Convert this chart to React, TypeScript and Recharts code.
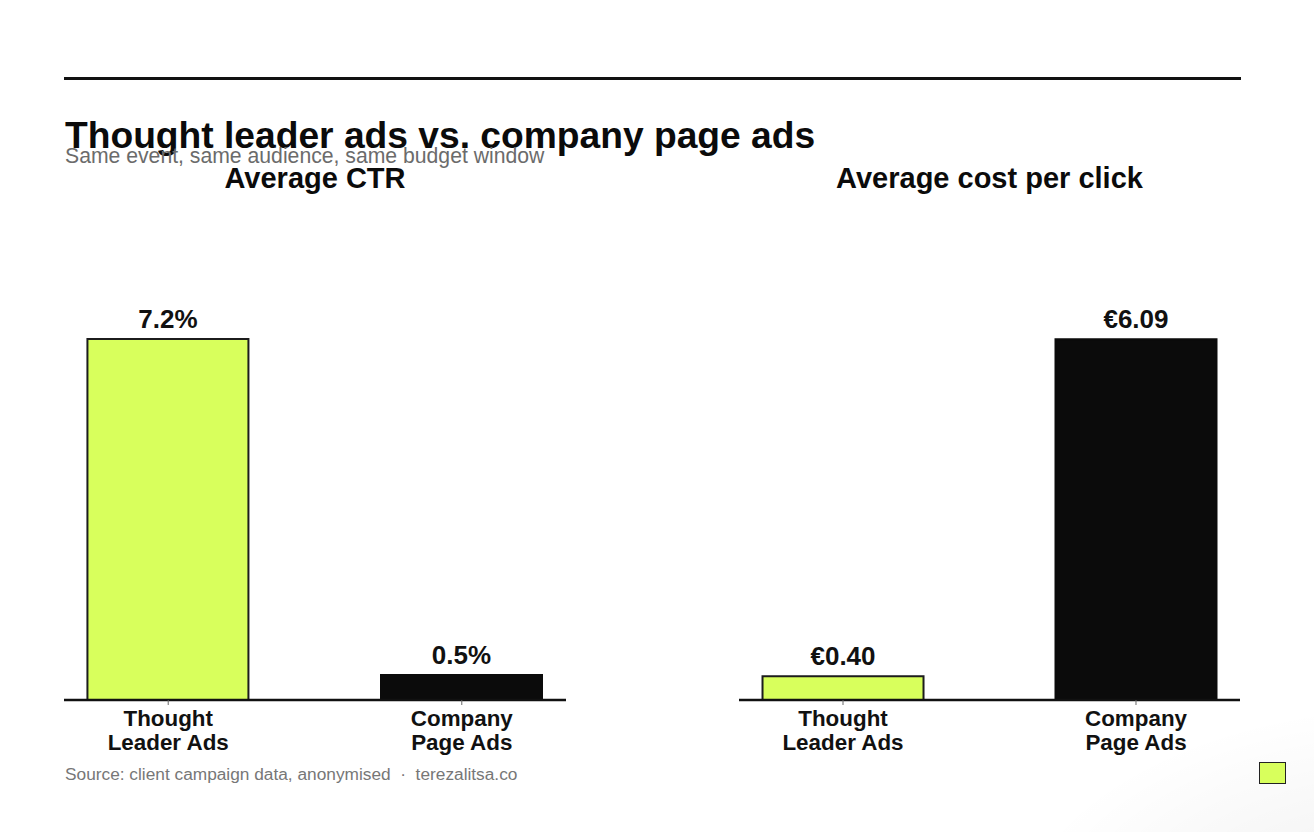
import React from "react";
import { BarChart, Bar, XAxis, YAxis, Cell, LabelList } from "recharts";

const categories = ["Thought Leader Ads", "Company Page Ads"];
const categoryLines = [
  ["Thought", "Leader Ads"],
  ["Company", "Page Ads"],
];
const ctrValues = [7.2, 0.5];
const cpcValues = [0.4, 6.09];

const LIME = "#D8FF5C";
const INK = "#0b0b0b";
const barColors = [LIME, INK];
const FONT = '"Liberation Sans", Arial, sans-serif';

const CHART_W = 657;
const CHART_H = 832;

function CategoryTick(props: any) {
  const { x, y, payload } = props;
  const lines = categoryLines[payload.value] ?? [];
  return (
    <g transform={`translate(${x},${y})`}>
      <text textAnchor="middle" fill="#111" fontSize={22.4} fontWeight={700} fontFamily={FONT}>
        {lines.map((l, i) => (
          <tspan key={i} x={0} dy={i === 0 ? 19 : 24}>
            {l}
          </tspan>
        ))}
      </text>
    </g>
  );
}

interface PanelProps {
  values: number[];
  yMax: number;
  format: (v: number) => string;
  left: number;
  margin: { top: number; right: number; bottom: number; left: number };
}

function Panel({ values, yMax, format, left, margin }: PanelProps) {
  const data = categories.map((name, i) => ({ pos: i, name, value: values[i] }));
  return (
    <div style={{ position: "absolute", left, top: 0 }}>
      <BarChart width={CHART_W} height={CHART_H} data={data} margin={margin}>
        <XAxis
          type="number"
          dataKey="pos"
          domain={[-0.355, 1.355]}
          ticks={[0, 1]}
          allowDataOverflow
          axisLine={{ stroke: "#111", strokeWidth: 2.5 }}
          tickLine={{ stroke: "#666", strokeWidth: 1 }}
          tickSize={5}
          tick={<CategoryTick />}
          interval={0}
          height={30}
        />
        <YAxis hide domain={[0, yMax]} allowDataOverflow />
        <Bar dataKey="value" barSize={161} stroke="#161616" strokeWidth={2} isAnimationActive={false}>
          {data.map((d, i) => (
            <Cell key={d.name} fill={barColors[i]} stroke={i === 0 ? "#1c1c1c" : INK} />
          ))}
          <LabelList
            dataKey="value"
            position="top"
            offset={11}
            formatter={(v: any) => format(Number(v))}
            style={{ fill: "#111", fontSize: 26, fontWeight: 700, fontFamily: FONT }}
          />
        </Bar>
      </BarChart>
    </div>
  );
}

export default function App() {
  return (
    <div
      style={{
        position: "absolute",
        left: 0,
        top: 0,
        width: 1314,
        height: 832,
        background: "#fff",
        overflow: "hidden",
        fontFamily: FONT,
      }}
    >
      {/* soft corner shadow */}
      <div
        style={{
          position: "absolute",
          left: 1000,
          top: 700,
          width: 600,
          height: 300,
          background: "radial-gradient(ellipse at 70% 80%, rgba(0,0,0,0.07) 0%, rgba(0,0,0,0.03) 40%, rgba(0,0,0,0) 70%)",
        }}
      />
      <div style={{ position: "absolute", left: 64, top: 77, width: 1177, height: 3, background: "#111" }} />

      <Panel
        values={ctrValues}
        yMax={8}
        format={(v) => `${v.toFixed(1)}%`}
        left={0}
        margin={{ top: 299, right: 91, bottom: 102, left: 64 }}
      />
      <Panel
        values={cpcValues}
        yMax={6.77}
        format={(v) => `€${v.toFixed(2)}`}
        left={657}
        margin={{ top: 299, right: 74, bottom: 102, left: 82 }}
      />

      <div style={{ position: "absolute", left: 65, top: 116.5, fontSize: 37.2, fontWeight: 700, lineHeight: 1, color: "#0b0b0b", whiteSpace: "nowrap" }}>
        Thought leader ads vs. company page ads
      </div>
      <div style={{ position: "absolute", left: 65, top: 145.2, fontSize: 21.2, lineHeight: 1, color: "#6b6b6b", whiteSpace: "nowrap" }}>
        Same event, same audience, same budget window
      </div>
      <div style={{ position: "absolute", left: 115, width: 400, textAlign: "center", top: 163.5, fontSize: 29, fontWeight: 700, lineHeight: 1, color: "#0b0b0b" }}>
        Average CTR
      </div>
      <div style={{ position: "absolute", left: 789.5, width: 400, textAlign: "center", top: 163.5, fontSize: 29, fontWeight: 700, lineHeight: 1, color: "#0b0b0b" }}>
        Average cost per click
      </div>
      <div style={{ position: "absolute", left: 65, top: 765.5, fontSize: 17.3, lineHeight: 1, color: "#777", whiteSpace: "pre" }}>
        {"Source: client campaign data, anonymised  ·  terezalitsa.co"}
      </div>
      <div
        style={{
          position: "absolute",
          left: 1259,
          top: 762,
          width: 25,
          height: 20,
          background: LIME,
          border: "1.5px solid #222",
        }}
      />
    </div>
  );
}
